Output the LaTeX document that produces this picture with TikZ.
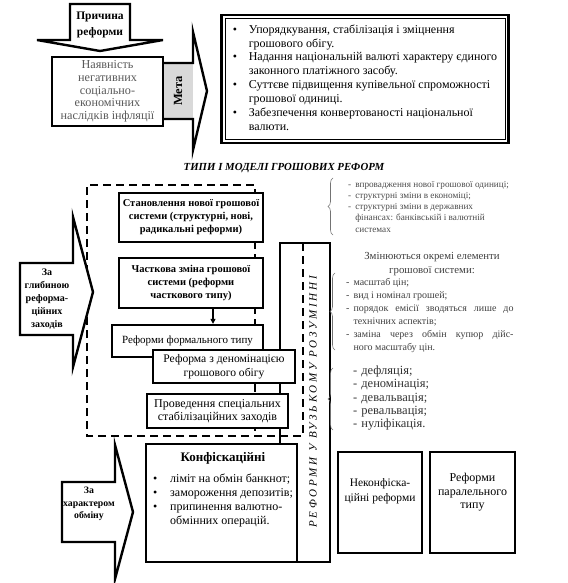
\documentclass[tikz,border=0pt]{standalone}
\usepackage{fontspec}
\setmainfont{Liberation Serif}
\usetikzlibrary{arrows.meta,decorations.pathreplacing}
\begin{document}
\begin{tikzpicture}[x=1pt,y=-1pt,
  box/.style={draw, line width=2.3pt, fill=white, inner sep=0pt, align=center},
  blockarrow/.style={draw, line width=2.4pt, fill=white, line join=miter},
  dashline/.style={line width=2pt, dash pattern=on 8pt off 5pt},
  brc/.style={draw=black!55, line width=0.6pt, decorate, decoration={brace, amplitude=5pt}},
  txt/.style={inner sep=0pt, align=center},
  boldsmall/.style={font=\fontsize{10.5}{13}\selectfont\bfseries},
]
\path[fill=white] (0,0) rectangle (567,583);
\useasboundingbox (0,0) rectangle (567,583);

% ---------- top part ----------
% "Мета" arrow (shaft grey)
\fill[black!15] (163,63) rectangle (193,119);
\draw[line width=2.4pt, line join=miter] (163,63) -- (193,63) -- (193,32) -- (207,91) -- (193,150) -- (193,119) -- (163,119);
\node[txt, rotate=90, font=\fontsize{12.5}{14}\selectfont\bfseries] (meta) at (178,91) {Мета};

% cause arrow
\draw[blockarrow] (70,4) -- (70,40) -- (37,40) -- (100,51) -- (163,40) -- (130,40) -- (130,4) -- cycle;
\node[txt, font=\fontsize{11.5}{16}\selectfont\bfseries] (causelbl) at (100,25) {Причина\\реформи};

% cause box
\node[box, minimum width=111pt, minimum height=69pt, text=black!65, font=\fontsize{12.2}{12.7}\selectfont] (cause) at (107.5,91.5)
  {Наявність\\негативних\\соціально-\\економічних\\наслідків інфляції};

% goal box
\node[draw, line width=2.6pt, fill=white, inner sep=0pt, minimum width=287pt, minimum height=128pt,
      font=\fontsize{12}{13.9}\selectfont] (goal) at (365,79)
  {\begin{tabular}{@{}p{16pt}@{}l@{}}
   \textbullet & Упорядкування, стабілізація і зміцнення\\
               & грошового обігу.\\
   \textbullet & Надання національній валюті характеру єдиного\\
               & законного платіжного засобу.\\
   \textbullet & Суттєве підвищення купівельної спроможності\\
               & грошової одиниці.\\
   \textbullet & Забезпечення конвертованості національної\\
               & валюти.
   \end{tabular}};
\draw[line width=0.8pt] (225,18.5) rectangle (505,139.5);

% title
\node[txt, font=\fontsize{10.8}{13}\selectfont\bfseries\itshape] (title) at (284,168) {ТИПИ І МОДЕЛІ ГРОШОВИХ РЕФОРМ};

% ---------- middle part ----------
% tall box "in narrow sense"
\node[box, minimum width=50pt, minimum height=319pt] (narrow) at (305,402.5) {};

% dashed frame
\draw[dashline] (303,243) -- (303,436) -- (87,436) -- (87,185) -- (255,185) -- (255,436);

\node[txt, rotate=90, font=\fontsize{11}{13}\selectfont\itshape\addfontfeature{LetterSpace=25}] (narrowtxt) at (313,402) {РЕФОРМИ У ВУЗЬКОМУ РОЗУМІННІ};

\node[box, minimum width=144pt, minimum height=49pt, boldsmall] (stanov) at (191,217.5)
  {Становлення нової грошової\\системи (структурні, нові,\\радикальні реформи)};
\node[box, minimum width=144pt, minimum height=50pt, boldsmall] (chastk) at (191,283)
  {Часткова зміна грошової\\системи (реформи\\часткового типу)};
\node[box, minimum width=151pt, minimum height=32pt, font=\fontsize{11}{13}\selectfont] (formal) at (187.5,341)
  {\raisebox{3pt}{Реформи формального типу}};
\node[box, minimum width=142pt, minimum height=33pt, font=\fontsize{11.6}{13.5}\selectfont] (denom) at (224,366.5)
  {Реформа з деномінацією\\грошового обігу};
\node[box, minimum width=141pt, minimum height=34pt, font=\fontsize{12}{12.5}\selectfont] (proved) at (217.5,411)
  {Проведення спеціальних\\стабілізаційних заходів};

\coordinate (ax) at (213,0);
\draw[line width=1.5pt, -{Triangle[length=5pt,width=5pt]}] (chastk.south -| ax) -- (formal.north -| ax);

% deep arrow
\draw[blockarrow] (20,263) -- (73,263) -- (73,217) -- (93,292) -- (73,367) -- (73,335) -- (20,335) -- cycle;
\node[txt, font=\fontsize{10}{13.2}\selectfont\bfseries] (deeplbl) at (47,299) {За\\глибиною\\реформа-\\ційних\\заходів};

% right side braces and texts
\draw[brc] (333,235) -- (333,178);
\node[anchor=west, inner sep=0pt, text=black!70, font=\fontsize{9.2}{11.2}\selectfont] (br1) at (348,207.5)
  {\begin{tabular}{@{}l@{\hspace{4pt}}l@{}}
   - & впровадження нової грошової одиниці;\\
   - & структурні зміни в економіці;\\
   - & структурні зміни в державних\\
     & фінансах: банківській і валютній\\
     & системах
   \end{tabular}};

\node[txt, text=black!75, font=\fontsize{10.8}{13.5}\selectfont] (br2head) at (432,264)
  {Змінюються окремі елементи\\грошової системи:};
\draw[brc] (335,350) -- (335,273);
\node[anchor=west, inner sep=0pt, text=black!75, font=\fontsize{10}{13}\selectfont] (br2) at (346,315.5)
  {\begin{tabular}{@{}l@{\hspace{4pt}}l@{}}
   - & масштаб цін;\\
   - & вид і номінал грошей;\\
   - & \makebox[160pt][s]{порядок емісії зводяться лише до}\\
     & технічних аспектів;\\
   - & \makebox[160pt][s]{заміна через обмін купюр дійс-}\\
     & ного масштабу цін.
   \end{tabular}};

\draw[brc] (333,430) -- (333,368);
\node[anchor=west, inner sep=0pt, text=black!80, font=\fontsize{12.5}{13.3}\selectfont] (br3) at (353,398.5)
  {\begin{tabular}{@{}l@{\hspace{4pt}}l@{}}
   - & дефляція;\\
   - & деномінація;\\
   - & девальвація;\\
   - & ревальвація;\\
   - & нуліфікація.
   \end{tabular}};

% ---------- bottom part ----------
\node[box, minimum width=151pt, minimum height=118pt] (konf) at (221.5,503) {};
\node[txt, font=\fontsize{13}{14}\selectfont\bfseries] (konftitle) at (223,458) {Конфіскаційні};
\node[anchor=west, inner sep=0pt, font=\fontsize{12}{14}\selectfont] (konfitems) at (153,501)
  {\begin{tabular}{@{}p{17pt}@{}l@{}}
   \textbullet & ліміт на обмін банкнот;\\
   \textbullet & замороження депозитів;\\
   \textbullet & припинення валютно-\\
               & обмінних операцій.
   \end{tabular}};

\draw[blockarrow] (62,482) -- (115,482) -- (115,445) -- (133,512) -- (115,579) -- (115,542) -- (62,542) -- cycle;
\node[txt, font=\fontsize{9.8}{12.5}\selectfont\bfseries] (exchlbl) at (89,504) {За\\характером\\обміну};

\node[box, line width=2.6pt, minimum width=84pt, minimum height=101pt] (nekonf) at (380,502.5) {};
\node[txt, font=\fontsize{11.5}{14.5}\selectfont] (nekonftxt) at (380,491) {Неконфіска-\\ційні реформи};
\node[box, line width=2.6pt, minimum width=85pt, minimum height=101pt] (paral) at (472.5,502.5) {};
\node[txt, font=\fontsize{12}{13.5}\selectfont] (paraltxt) at (472.5,492.5) {Реформи\\паралельного\\типу};
\end{tikzpicture}
\end{document}
